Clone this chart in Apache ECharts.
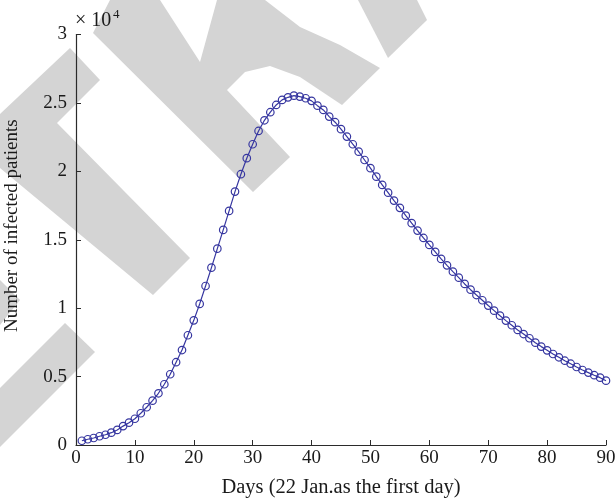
<!DOCTYPE html>
<html>
<head>
<meta charset="utf-8">
<script src="https://cdn.jsdelivr.net/npm/echarts@6/dist/echarts.min.js"></script>
<style>
html,body{margin:0;padding:0;background:#fff;}
#c{width:615px;height:503px;}
</style>
</head>
<body>
<div id="c"></div>
<script>
// Days (22 Jan. as the first day)
const days = [];
for (let d = 1; d <= 90; d++) days.push(d);
// Number of infected patients
const infected = [
  310, 420, 510, 640, 750, 900, 1100, 1380, 1630, 1920,
  2320, 2760, 3240, 3780, 4440, 5170, 6050, 6940, 8020, 9110,
  10310, 11620, 12960, 14350, 15720, 17110, 18520, 19790, 20960, 21980,
  22950, 23730, 24320, 24850, 25220, 25410, 25530, 25460, 25340, 25150,
  24800, 24490, 24000, 23590, 23080, 22540, 21980, 21440, 20830, 20230,
  19610, 19010, 18440, 17860, 17330, 16760, 16210, 15670, 15130, 14620,
  14110, 13600, 13130, 12670, 12230, 11770, 11350, 10960, 10580, 10190,
  9820, 9450, 9090, 8750, 8410, 8110, 7800, 7480, 7190, 6920,
  6650, 6410, 6160, 5940, 5700, 5480, 5290, 5100, 4920, 4700
];
const xTicks = [0, 10, 20, 30, 40, 50, 60, 70, 80, 90];
const yTickLabels = ['0', '0.5', '1', '1.5', '2', '2.5', '3'];

const FONT = "'Liberation Serif', 'DejaVu Serif', serif";
const AXIS_COLOR = '#2b2b2b';
const TEXT_COLOR = '#1a1a1a';
const LINE_COLOR = '#3636a0';
const WM = '#d4d4d4';

const wm = (pts) => ({
  type: 'polygon', z: -100, silent: true,
  shape: { points: pts },
  style: { fill: WM }
});

const chart = echarts.init(document.getElementById('c'), null, { renderer: 'canvas' });
chart.setOption({
  animation: false,
  backgroundColor: '#fff',
  grid: { left: 76, right: 9, top: 34.5, bottom: 58, containLabel: false, outerBoundsMode: 'none' },
  graphic: [
    wm([[70,48],[100,80],[57,123],[190,258],[153,295],[0,168],[0,114]]),
    wm([[0,280],[20,300],[0,325]]),
    wm([[65,323],[95,352],[0,447],[0,388]]),
    wm([[93,33],[110,0],[160,0],[200,62],[217,0],[265,0],[300,27],[340,45],[380,68],[342,105],[300,77],[270,66],[245,72],[227,90],[290,157],[253,192]]),
    wm([[358,0],[417,0],[427,20],[388,58]]),
    {
      type: 'text', left: 75, top: 11, z: 10,
      style: { text: '× 10', font: "20px " + FONT, fill: TEXT_COLOR }
    },
    {
      type: 'text', left: 113, top: 8, z: 10,
      style: { text: '4', font: "13px " + FONT, fill: TEXT_COLOR }
    }
  ],
  xAxis: {
    type: 'value', min: 0, max: 90, interval: 10,
    name: 'Days (22 Jan.as the first day)',
    nameLocation: 'middle', nameGap: 32,
    nameTextStyle: { fontFamily: FONT, fontSize: 20.5, color: TEXT_COLOR },
    axisLine: { show: true, lineStyle: { color: AXIS_COLOR, width: 1.2 } },
    axisTick: { show: true, inside: true, length: 5, lineStyle: { color: AXIS_COLOR } },
    axisLabel: { fontFamily: FONT, fontSize: 19, color: TEXT_COLOR, margin: 4,
      formatter: (v) => xTicks.includes(v) ? String(v) : '' },
    splitLine: { show: false }
  },
  yAxis: {
    type: 'value', min: 0, max: 30000, interval: 5000,
    name: 'Number of infected patients',
    nameLocation: 'middle', nameGap: 54,
    nameTextStyle: { fontFamily: FONT, fontSize: 19, color: TEXT_COLOR, padding: [0, 0, 0, 28] },
    axisLine: { show: true, lineStyle: { color: AXIS_COLOR, width: 1.2 } },
    axisTick: { show: true, inside: true, length: 5, lineStyle: { color: AXIS_COLOR } },
    axisLabel: { fontFamily: FONT, fontSize: 19, color: TEXT_COLOR, margin: 9,
      formatter: (v) => yTickLabels[Math.round(v / 5000)] },
    splitLine: { show: false }
  },
  series: [{
    type: 'line',
    data: days.map((d, i) => [d, infected[i]]),
    symbol: 'circle',
    symbolSize: 7.5,
    showAllSymbol: true,
    lineStyle: { color: LINE_COLOR, width: 1.2 },
    itemStyle: { color: 'rgba(0,0,0,0)', borderColor: LINE_COLOR, borderWidth: 1.2 },
    z: 5
  }]
});
</script>
</body>
</html>
